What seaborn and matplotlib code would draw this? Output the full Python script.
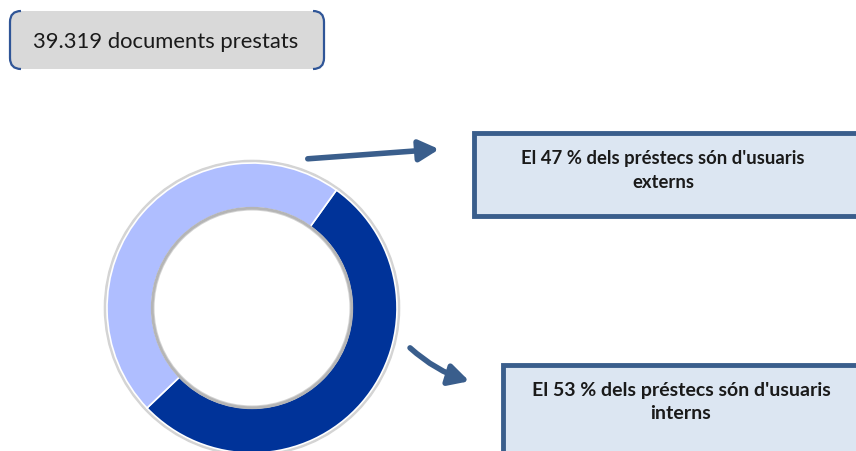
import matplotlib
matplotlib.use("Agg")
import matplotlib.pyplot as plt
import seaborn as sns
from matplotlib.patches import FancyBboxPatch, Rectangle, FancyArrowPatch, Circle, PathPatch
from matplotlib.path import Path

sns.set_theme(style="white")
plt.rcParams['font.family'] = ['Lato', 'DejaVu Sans']

# ---- data ----
categories = ["interns", "externs"]
shares = [53, 47]
colors = ["#003399", "#AFBEFF"]
total_text = "39.319 documents prestats"
label_externs = "El 47 % dels préstecs són d'usuaris\nexterns"
label_interns = "El 53 % dels préstecs són d'usuaris\ninterns"

W, H = 856, 452
fig = plt.figure(figsize=(W / 100, H / 100), dpi=100)
fig.patch.set_facecolor("white")

# overlay axes in pixel coordinates
ov = fig.add_axes([0, 0, 1, 1])
ov.set_xlim(0, W)
ov.set_ylim(H, 0)
ov.axis("off")

# ---- donut ----
cx, cy, R = 252, 309, 145
pax = fig.add_axes([(cx - R) / W, (H - cy - R) / H, 2 * R / W, 2 * R / H])
pax.add_patch(Circle((0, 0), 1.018, color="#d4d4d4", zorder=0, clip_on=False))
wedges, _ = pax.pie(shares, colors=colors, startangle=54.4, counterclock=False,
                    radius=1.0, wedgeprops=dict(width=0.31, edgecolor="white", linewidth=1.2))
for w in wedges:
    w.set_zorder(2)
    w.set_clip_on(False)
pax.add_patch(Circle((0, 0), 0.688, facecolor="none", edgecolor="#b5b5b5", linewidth=2.0, zorder=3))
pax.add_patch(Circle((0, 0), 0.672, facecolor="white", edgecolor="none", zorder=4))
pax.set_xlim(-1, 1)
pax.set_ylim(-1, 1)
pax.set_aspect("equal")
pax.axis("off")

# ---- top box ----
ov.add_patch(FancyBboxPatch((10, 12), 314, 58, boxstyle="round,pad=0,rounding_size=11",
                            facecolor="#D9D9D9", edgecolor="none", zorder=1))
edge_c = "#2F5597"
r = 11
for side in (0, 1):
    if side == 0:
        x0 = 10
        verts = [(x0 + r, 12), (x0, 12), (x0, 12 + r), (x0, 70 - r), (x0, 70), (x0 + r, 70)]
    else:
        x0 = 324
        verts = [(x0 - r, 12), (x0, 12), (x0, 12 + r), (x0, 70 - r), (x0, 70), (x0 - r, 70)]
    codes = [Path.MOVETO, Path.CURVE3, Path.CURVE3, Path.LINETO, Path.CURVE3, Path.CURVE3]
    ov.add_patch(PathPatch(Path(verts, codes), facecolor="none", edgecolor=edge_c, linewidth=1.6, zorder=2))
ov.text(166, 42, total_text, ha="center", va="center", fontsize=15.8, color="#1a1a1a", zorder=3)

# ---- callout boxes ----
box_edge = "#3A5E8C"
box_fill = "#DCE6F2"
ov.add_patch(Rectangle((474, 134), 400, 83, facecolor=box_fill, edgecolor=box_edge, linewidth=3.5, zorder=1, clip_on=False))
ov.add_patch(Rectangle((503, 366), 400, 100, facecolor=box_fill, edgecolor=box_edge, linewidth=3.5, zorder=1, clip_on=False))
ov.text(663, 171, label_externs, ha="center", va="center", fontsize=13.3, fontweight="bold",
        color="#1a1a1a", linespacing=1.5, zorder=3)
ov.text(681, 402, label_interns, ha="center", va="center", fontsize=14, fontweight="bold",
        color="#1a1a1a", linespacing=1.4, zorder=3)

# ---- arrows ----
arrow_c = "#3A5E8C"
ov.add_patch(FancyArrowPatch((305, 160), (442, 150), arrowstyle="-|>,head_length=6,head_width=3.2",
                             color=arrow_c, linewidth=4, mutation_scale=2.0, zorder=2))
ov.add_patch(FancyArrowPatch((408, 347), (472, 383), arrowstyle="-|>,head_length=6,head_width=3.2",
                             connectionstyle="arc3,rad=0.12",
                             color=arrow_c, linewidth=4, mutation_scale=2.0, zorder=2))

fig.savefig("out.png", dpi=100, facecolor="white")
